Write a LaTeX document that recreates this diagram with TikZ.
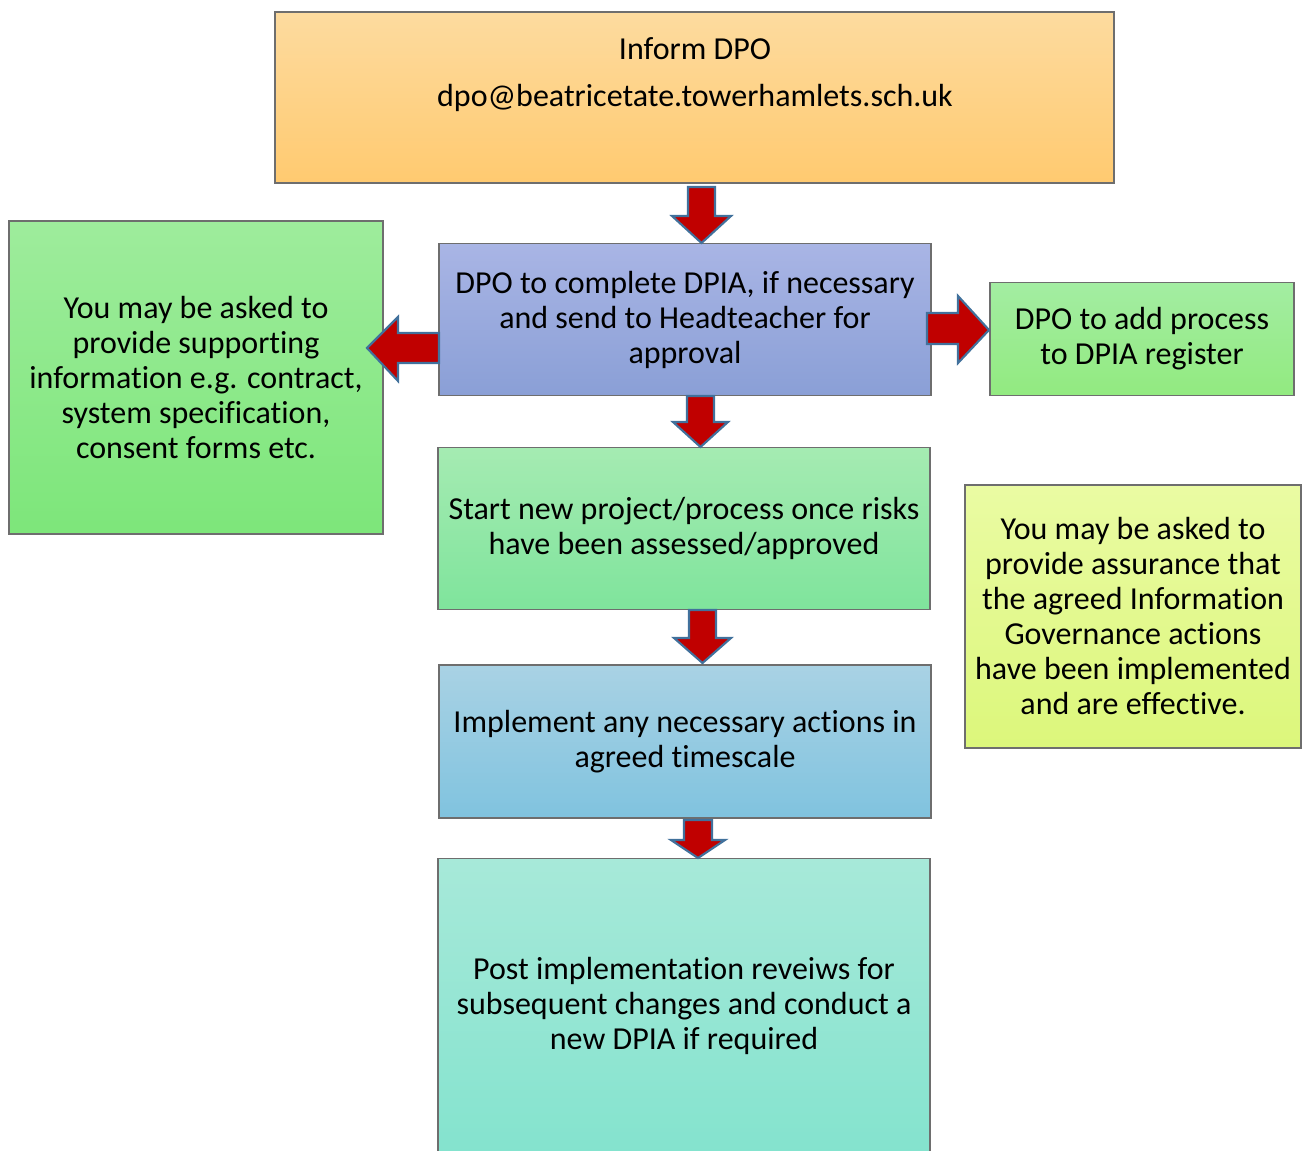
\documentclass[tikz,border=0pt]{standalone}
\usepackage{fontspec}
\setmainfont{Carlito}[Ligatures=NoCommon]
\definecolor{arrfill}{HTML}{C00000}
\definecolor{arrline}{HTML}{41719C}
\definecolor{boxline}{HTML}{6E6E6E}
\definecolor{orT}{HTML}{FDDB9F}\definecolor{orB}{HTML}{FFCA70}
\definecolor{blT}{HTML}{A9B5E5}\definecolor{blB}{HTML}{8A9FD6}
\definecolor{lgT}{HTML}{9EEC9C}\definecolor{lgB}{HTML}{7DE67A}
\definecolor{rgT}{HTML}{A3EDA2}\definecolor{rgB}{HTML}{92EA80}
\definecolor{sgT}{HTML}{A5EBB2}\definecolor{sgB}{HTML}{7FE49C}
\definecolor{ylT}{HTML}{EAFBA3}\definecolor{ylB}{HTML}{DCF77B}
\definecolor{imT}{HTML}{A9D2E4}\definecolor{imB}{HTML}{80C3DF}
\definecolor{poT}{HTML}{A7E9D9}\definecolor{poB}{HTML}{84E3CE}
\tikzset{
  txt/.style={font=\fontsize{24}{26.25}\selectfont, text=black},
  box/.style={draw=boxline, line width=0.8pt, inner sep=0pt, align=center, txt},
  blockarrow/.style={fill=arrfill, draw=arrline, line width=1.6pt, line join=miter}
}
\newcommand\blockdown[6]{% cx, top, headY, tipY, shaftHalf, headHalf
  \path[blockarrow] ({#1-#5},#2) -- ({#1+#5},#2) -- ({#1+#5},#3) -- ({#1+#6},#3)
    -- (#1,#4) -- ({#1-#6},#3) -- ({#1-#5},#3) -- cycle;}
\begin{document}
\begin{tikzpicture}[x=0.75pt,y=-0.75pt]
\useasboundingbox (0,0) rectangle (1303,1151);
% boxes
\node[box, minimum width=629.25pt, minimum height=128.25pt, top color=orT, bottom color=orB] (dpo) at (694.5,97.5) {};
\node[txt] (t1) at (695,49) {Inform DPO};
\node[txt] (t2) at (695,98) {dpo@beatricetate.towerhamlets.sch.uk};
\node[box, minimum width=369pt, minimum height=114pt, top color=blT, bottom color=blB] (dpia) at (685,319.5)
  {DPO to complete DPIA, if necessary\\and send to Headteacher for\\approval};
\node[box, minimum width=280.5pt, minimum height=234.75pt, top color=lgT, bottom color=lgB] (supp) at (196,377.5)
  {You may be asked to\\provide supporting\\information e.g. contract,\\system specification,\\consent forms etc.};
\node[box, minimum width=228pt, minimum height=84.75pt, top color=rgT, bottom color=rgB] (reg) at (1142,339)
  {DPO to add process\\to DPIA register};
\node[box, minimum width=369pt, minimum height=121.5pt, top color=sgT, bottom color=sgB] (start) at (684,528.5)
  {Start new project/process once risks\\have been assessed/approved};
\node[box, minimum width=252pt, minimum height=197.25pt, top color=ylT, bottom color=ylB] (assur) at (1133,616.5)
  {You may be asked to\\provide assurance that\\the agreed Information\\Governance actions\\have been implemented\\and are effective.};
\node[box, minimum width=369pt, minimum height=114.75pt, top color=imT, bottom color=imB] (impl) at (685,741.5)
  {Implement any necessary actions in\\agreed timescale};
\node[box, minimum width=369pt, minimum height=220.5pt, top color=poT, bottom color=poB] (post) at (684,1005.5)
  {Post implementation reveiws for\\subsequent changes and conduct a\\new DPIA if required};
% block arrows
\blockdown{701.5}{187}{216}{243}{13.5}{29.5}
\blockdown{700.5}{396}{422}{447}{13.5}{27.5}
\blockdown{702.5}{610}{638}{663}{13.5}{28.5}
\blockdown{698}{820}{840}{858}{14}{27}
\path[blockarrow] (439,333) -- (398,333) -- (398,317) -- (367,348) -- (398,381) -- (398,363) -- (439,363) -- cycle;
\path[blockarrow] (927,313) -- (958,313) -- (958,296) -- (989,330) -- (958,363) -- (958,344) -- (927,344) -- cycle;
\end{tikzpicture}
\end{document}
